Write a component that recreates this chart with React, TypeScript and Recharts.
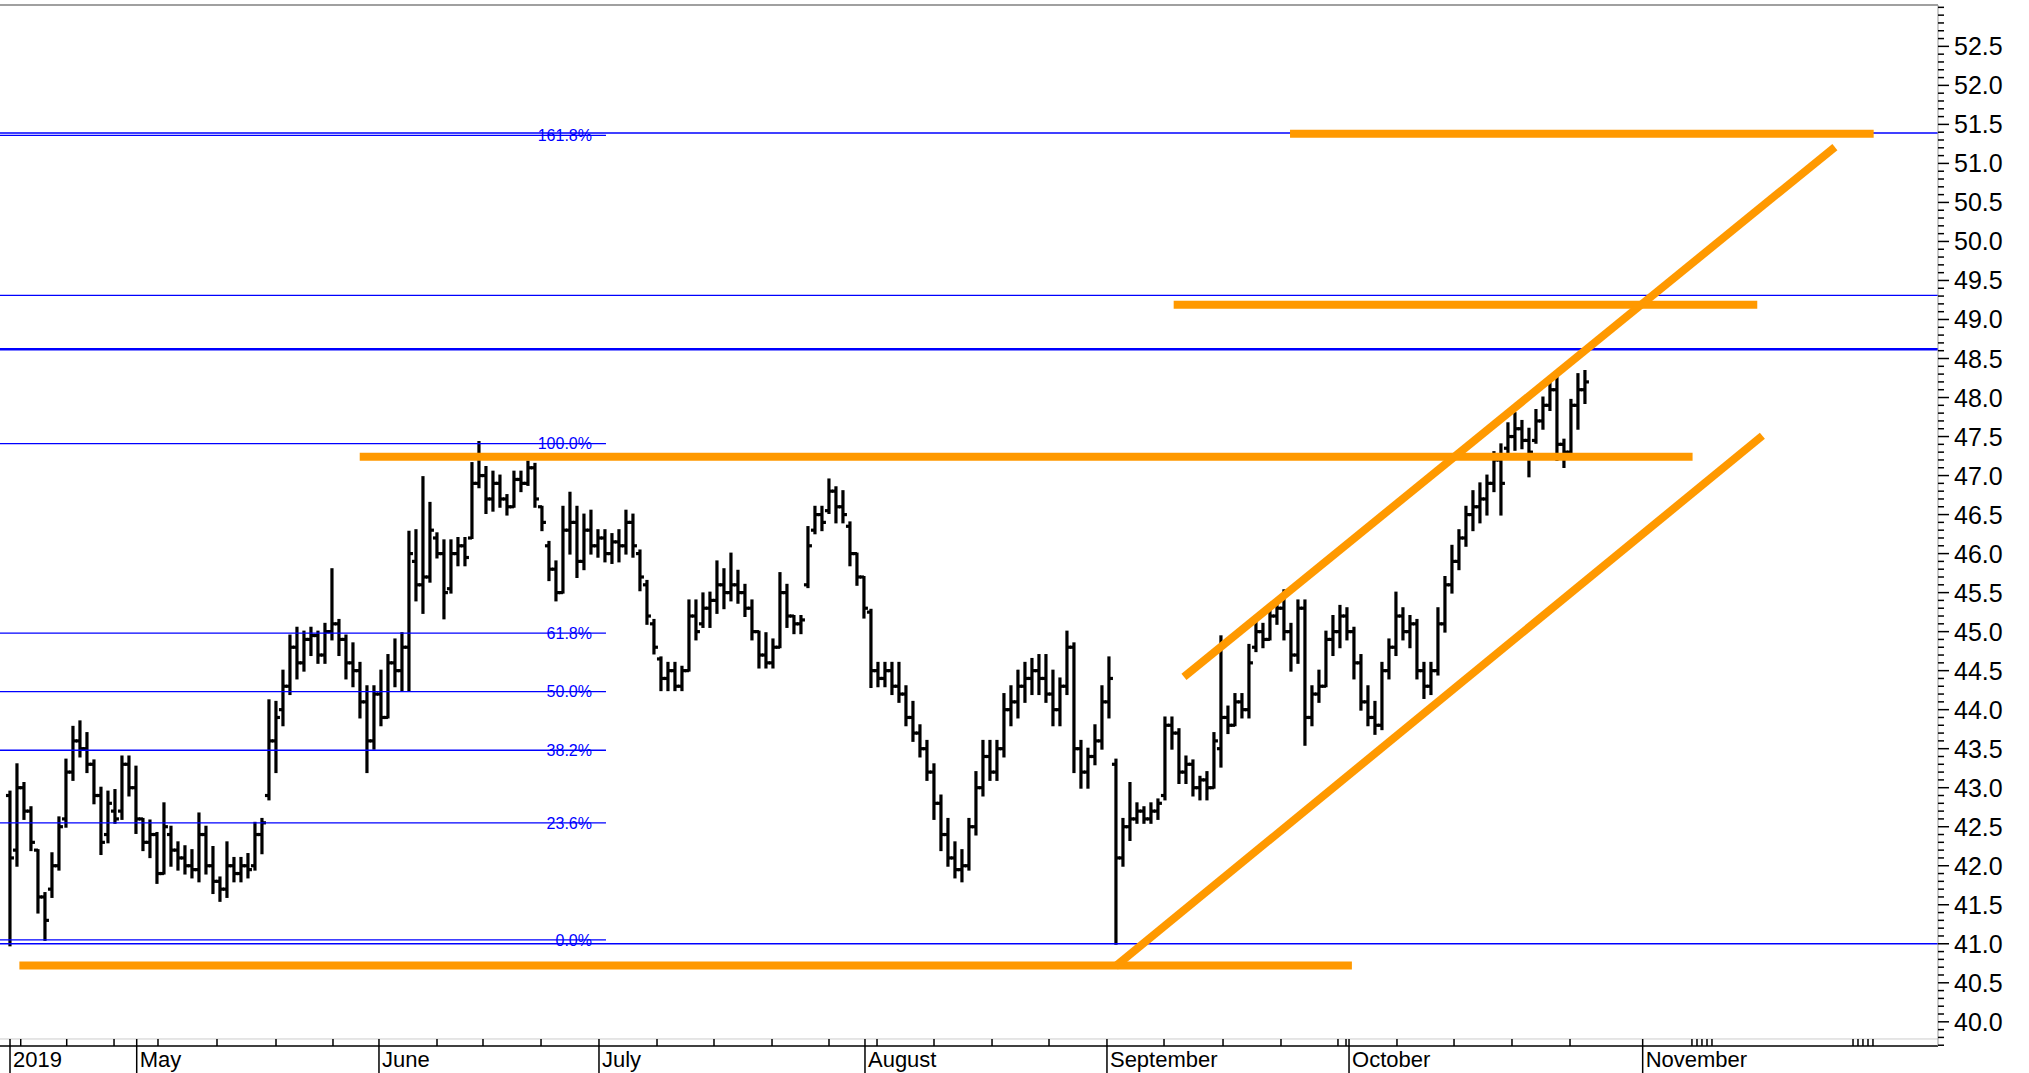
import React from 'react';
import { ComposedChart, Bar, XAxis, YAxis, ReferenceLine, Scatter } from 'recharts';

// ---- OHLC data (one bar per slot) ----
const opens = [
  42.9, 42.2, 43.0, 42.7, 42.2, 41.6, 41.7, 42.0, 42.6, 43.2,
  43.6, 43.5, 43.3, 42.9, 42.4, 42.7, 42.7, 43.3, 43.0, 42.6,
  42.3, 42.4, 41.9, 42.4, 42.2, 42.1, 42.0, 41.95, 42.4, 42.0,
  41.8, 41.7, 42.0, 41.9, 42.0, 42.0, 42.4, 42.9, 43.6, 44.0,
  44.3, 44.8, 44.6, 44.9, 44.95, 44.7, 45.0, 45.1, 44.9, 44.6,
  44.5, 44.1, 43.6, 44.2, 43.9, 44.6, 44.5, 44.8, 45.9, 45.6,
  45.7, 46.2, 46.0, 45.55, 46.0, 46.1, 46.2, 46.9, 47.0, 46.7,
  46.9, 46.7, 46.6, 46.95, 46.9, 47.1, 46.6, 46.1, 45.8, 45.5,
  46.3, 46.4, 45.9, 46.3, 46.1, 46.2, 46.0, 46.15, 46.1, 46.4,
  46.0, 45.6, 45.1, 44.65, 44.4, 44.5, 44.3, 44.5, 45.2, 45.1,
  45.3, 45.4, 45.6, 45.5, 45.6, 45.5, 45.3, 45.0, 44.7, 44.6,
  44.8, 45.5, 45.2, 45.1, 45.6, 46.3, 46.5, 46.55, 46.8, 46.6,
  46.35, 46.0, 45.7, 45.25, 44.5, 44.4, 44.5, 44.3, 44.2, 43.9,
  43.7, 43.5, 43.2, 42.8, 42.4, 42.1, 41.95, 42.0, 42.5, 43.0,
  43.4, 43.2, 43.5, 44.0, 44.1, 44.3, 44.4, 44.5, 44.4, 44.2,
  44.0, 44.3, 44.8, 43.5, 43.2, 43.4, 43.6, 44.1, 43.3, 42.1,
  42.5, 42.6, 42.7, 42.6, 42.7, 42.9, 43.8, 43.7, 43.2, 43.3,
  43.0, 43.1, 43.0, 43.5, 43.9, 43.8, 44.1, 44.0, 44.8, 45.0,
  44.9, 45.2, 45.3, 45.0, 44.7, 45.3, 43.9, 44.2, 44.3, 44.9,
  45.0, 45.2, 45.0, 44.6, 44.1, 43.9, 43.8, 44.5, 44.8, 45.2,
  45.0, 45.1, 44.5, 44.3, 44.5, 45.1, 45.6, 45.9, 46.2, 46.5,
  46.6, 46.7, 46.9, 47.2, 47.35, 47.5, 47.6, 47.45, 47.45, 47.7,
  47.9, 48.1, 47.4, 47.3, 47.9, 48.1,
];
const highs = [
  42.95, 43.3, 43.06, 42.75, 42.2, 41.65, 42.16, 42.62, 43.36, 43.78,
  43.85, 43.7, 43.35, 43.0, 42.95, 42.97, 43.4, 43.4, 43.27, 42.6,
  42.58, 42.42, 42.8, 42.5, 42.3, 42.25, 42.2, 42.67, 42.5, 42.24,
  41.85, 42.3, 42.1, 42.1, 42.15, 42.55, 42.6, 44.12, 44.1, 44.5,
  44.95, 45.05, 45.0, 45.05, 45.0, 45.1, 45.8, 45.15, 44.95, 44.85,
  44.6, 44.3, 44.3, 44.5, 44.7, 44.9, 44.98, 46.28, 46.3, 46.98,
  46.65, 46.26, 46.17, 46.17, 46.2, 46.2, 47.16, 47.43, 47.11, 47.05,
  47.0, 46.75, 47.05, 47.05, 47.18, 47.15, 46.6, 46.15, 45.9, 46.6,
  46.78, 46.6, 46.5, 46.55, 46.3, 46.3, 46.25, 46.3, 46.55, 46.5,
  46.04, 45.65, 45.15, 44.67, 44.6, 44.6, 44.55, 45.4, 45.4, 45.49,
  45.5, 45.9, 45.8, 46.0, 45.78, 45.6, 45.4, 45.0, 44.98, 44.9,
  45.75, 45.6, 45.2, 45.2, 46.34, 46.6, 46.6, 46.95, 46.85, 46.8,
  46.4, 46.0, 45.7, 45.28, 44.6, 44.6, 44.6, 44.6, 44.3, 44.1,
  43.8, 43.6, 43.3, 42.9, 42.6, 42.3, 42.2, 42.6, 43.2, 43.6,
  43.6, 43.6, 44.2, 44.3, 44.5, 44.6, 44.65, 44.7, 44.7, 44.5,
  44.4, 45.0, 44.85, 43.6, 43.5, 43.8, 44.3, 44.67, 43.36, 42.6,
  43.06, 42.8, 42.75, 42.8, 42.85, 43.9, 43.9, 43.75, 43.4, 43.35,
  43.14, 43.2, 43.7, 44.94, 44.04, 44.2, 44.2, 44.83, 45.17, 45.1,
  45.3, 45.35, 45.53, 45.1, 45.4, 45.4, 44.3, 44.5, 45.0, 45.2,
  45.33, 45.3, 45.05, 44.7, 44.3, 44.1, 44.6, 44.9, 45.5, 45.3,
  45.2, 45.15, 44.6, 44.6, 45.3, 45.7, 46.1, 46.3, 46.6, 46.8,
  46.9, 47.0, 47.3, 47.4, 47.67, 47.8, 47.7, 47.6, 47.84, 48.0,
  48.19, 48.27, 47.46, 47.97, 48.3, 48.34,
];
const lows = [
  40.98, 42.0, 42.6, 42.2, 41.4, 41.05, 41.6, 41.95, 42.5, 43.1,
  43.4, 43.2, 42.8, 42.15, 42.3, 42.55, 42.6, 42.9, 42.42, 42.2,
  42.11, 41.78, 41.9, 42.0, 41.95, 41.9, 41.85, 41.8, 41.9, 41.65,
  41.55, 41.6, 41.8, 41.8, 41.85, 41.95, 42.16, 42.85, 43.2, 43.8,
  44.2, 44.4, 44.5, 44.7, 44.6, 44.6, 44.9, 44.7, 44.4, 44.3,
  43.9, 43.2, 43.5, 43.8, 43.9, 44.3, 44.25, 44.25, 45.4, 45.24,
  45.64, 45.95, 45.17, 45.5, 45.85, 45.85, 46.2, 46.85, 46.52, 46.55,
  46.6, 46.5, 46.6, 46.8, 46.88, 46.6, 46.3, 45.66, 45.4, 45.5,
  46.0, 45.7, 45.8, 46.0, 45.96, 45.9, 45.88, 45.9, 46.0, 45.96,
  45.53, 45.1, 44.72, 44.25, 44.25, 44.25, 44.25, 44.5, 44.9, 45.06,
  45.06, 45.24, 45.3, 45.4, 45.37, 45.2, 44.9, 44.54, 44.54, 44.54,
  44.8, 45.06, 44.98, 44.98, 45.57, 46.26, 46.3, 46.52, 46.4, 46.4,
  45.85, 45.6, 45.18, 44.29, 44.3, 44.3, 44.2, 44.1, 43.8, 43.6,
  43.4, 43.1, 42.6, 42.2, 42.0, 41.85, 41.8, 41.95, 42.4, 42.9,
  43.1, 43.1, 43.4, 43.8, 43.9, 44.1, 44.2, 44.2, 44.1, 43.8,
  43.8, 44.2, 43.2, 43.0, 43.0, 43.3, 43.5, 43.9, 41.0, 42.0,
  42.33, 42.55, 42.55, 42.55, 42.6, 42.85, 43.5, 43.06, 43.06, 42.9,
  42.85, 42.85, 43.0, 43.27, 43.7, 43.8, 43.9, 43.9, 44.75, 44.8,
  44.9, 45.1, 44.9, 44.5, 44.6, 43.55, 43.8, 44.1, 44.3, 44.7,
  44.8, 44.9, 44.4, 44.0, 43.8, 43.69, 43.75, 44.4, 44.7, 44.9,
  44.8, 44.4, 44.15, 44.2, 44.45, 45.0, 45.5, 45.8, 46.1, 46.3,
  46.4, 46.5, 46.8, 46.5, 47.3, 47.33, 47.35, 46.99, 47.42, 47.6,
  47.84, 47.2, 47.11, 47.25, 47.6, 47.93,
];
const closes = [
  42.1, 43.0, 42.7, 42.3, 41.6, 41.3, 42.0, 42.5, 43.2, 43.6,
  43.5, 43.3, 42.9, 42.3, 42.8, 42.6, 43.3, 43.0, 42.6, 42.3,
  42.4, 41.9, 42.5, 42.2, 42.1, 42.0, 41.95, 42.4, 42.0, 41.8,
  41.7, 42.0, 41.9, 42.0, 41.95, 42.4, 42.55, 43.6, 43.9, 44.3,
  44.8, 44.6, 44.9, 44.95, 44.7, 45.0, 45.1, 44.9, 44.6, 44.5,
  44.1, 43.6, 44.2, 43.9, 44.6, 44.5, 44.8, 46.0, 45.6, 45.7,
  46.3, 46.0, 45.5, 46.0, 46.1, 45.95, 46.9, 47.0, 46.7, 46.9,
  46.7, 46.6, 46.95, 46.9, 47.1, 46.7, 46.4, 45.8, 45.5, 46.3,
  46.4, 45.9, 46.3, 46.1, 46.2, 46.0, 46.15, 46.1, 46.4, 46.1,
  45.7, 45.2, 44.8, 44.4, 44.5, 44.3, 44.5, 45.2, 45.0, 45.3,
  45.4, 45.6, 45.5, 45.6, 45.5, 45.3, 45.0, 44.7, 44.6, 44.8,
  45.5, 45.2, 45.1, 45.15, 46.1, 46.5, 46.4, 46.8, 46.6, 46.5,
  46.0, 45.7, 45.3, 44.5, 44.4, 44.5, 44.3, 44.2, 43.9, 43.7,
  43.5, 43.2, 42.8, 42.4, 42.1, 41.95, 42.0, 42.5, 43.0, 43.4,
  43.2, 43.5, 44.0, 44.1, 44.3, 44.4, 44.5, 44.4, 44.2, 44.0,
  44.3, 44.8, 43.5, 43.2, 43.4, 43.6, 44.1, 44.4, 42.1, 42.5,
  42.6, 42.7, 42.6, 42.7, 42.8, 43.8, 43.7, 43.2, 43.3, 43.0,
  43.1, 43.0, 43.6, 43.9, 43.8, 44.1, 44.0, 44.6, 45.0, 44.9,
  45.2, 45.3, 45.0, 44.7, 45.3, 43.9, 44.2, 44.3, 44.9, 45.0,
  45.2, 45.0, 44.6, 44.1, 43.9, 43.8, 44.5, 44.8, 45.2, 45.0,
  45.1, 44.5, 44.3, 44.5, 45.1, 45.6, 45.9, 46.2, 46.5, 46.6,
  46.7, 46.9, 47.2, 46.9, 47.5, 47.6, 47.45, 47.3, 47.7, 47.9,
  48.1, 47.4, 47.3, 47.9, 48.1, 48.2,
];

// ---- time axis (slot units) ----
const monthTicks = [0, 18.1, 52.71, 84.14, 122.14, 156.71, 191.29, 233.24];
const monthLabels = ['2019', 'May', 'June', 'July', 'August', 'September', 'October', 'November'];
const weekTicks = [
  1.53, 8.1, 14.86, 21.14, 29.57, 38.0, 46.14, 61.0, 67.57, 75.86, 92.43, 100.57,
  108.86, 117.0, 123.86, 132.0, 140.29, 148.43, 164.86, 173.29, 181.57, 189.71,
  190.86, 198.14, 206.29, 214.57, 222.86, 240.28, 241.0, 241.71, 242.43, 243.14,
  263.29, 264.0, 264.71, 265.43, 266.14,
];
const xDomain = [-1.43, 275.43];

// ---- price axis ----
const yMajorLabels = [
  40.0, 40.5, 41.0, 41.5, 42.0, 42.5, 43.0, 43.5, 44.0, 44.5, 45.0, 45.5, 46.0,
  46.5, 47.0, 47.5, 48.0, 48.5, 49.0, 49.5, 50.0, 50.5, 51.0, 51.5, 52.0, 52.5,
];
const yDomain = [39.69, 53.03];

// ---- Fibonacci retracement ----
const fibLevels = [41.05, 42.55, 43.48, 44.23, 44.98, 47.41, 51.36];
const fibLabels = ['0.0%', '23.6%', '38.2%', '50.0%', '61.8%', '100.0%', '161.8%'];
const fibStart = -1.43;
const fibEnd = 85.14;

// ---- full-width horizontal levels ----
const longLevels = [51.39, 49.31, 48.62, 41.0];

// ---- hand-drawn orange trend lines (slot, price) ----
const orangeX1 = [1.34, 49.96, 166.24, 182.86, 167.71, 157.91];
const orangeY1 = [40.72, 47.24, 49.19, 51.38, 44.42, 40.71];
const orangeX2 = [191.7, 240.37, 249.61, 266.24, 260.7, 250.34];
const orangeY2 = [40.72, 47.24, 49.19, 51.38, 51.21, 47.51];

const FONT = "Arial, 'Liberation Sans', Helvetica, sans-serif";

const data = opens.map((o, i) => ({
  i,
  open: o,
  high: highs[i],
  low: lows[i],
  close: closes[i],
  range: [lows[i], highs[i]],
}));

const fibLabelData = fibLevels.map((v, k) => ({ i: fibEnd, y: v, label: fibLabels[k] }));

const yTicks: number[] = [];
for (let k = 397; k <= 530; k++) yTicks.push(k / 10);

const monthMap = new Map<number, string>();
monthTicks.forEach((m, k) => monthMap.set(m, monthLabels[k]));
const xTicks = [...weekTicks, ...monthTicks].sort((a, b) => a - b);

const OhlcShape = (props: any) => {
  const { x, y, width, height, payload } = props;
  if (x == null || y == null || !payload) return null;
  const cx = x + width / 2;
  const top = Math.min(y, y + height);
  const h = Math.abs(height);
  const span = payload.high - payload.low || 1;
  const yo = top + ((payload.high - payload.open) / span) * h;
  const yc = top + ((payload.high - payload.close) / span) * h;
  return (
    <g stroke="#000" strokeWidth={3.2}>
      <line x1={cx} x2={cx} y1={top - 1} y2={top + h + 1} />
      <line x1={cx - 4} x2={cx} y1={yo} y2={yo} />
      <line x1={cx} x2={cx + 4} y1={yc} y2={yc} />
    </g>
  );
};

const XTick = (props: any) => {
  const { x, y, payload } = props;
  const label = monthMap.get(payload.value);
  if (label !== undefined) {
    return (
      <g>
        <line x1={x} x2={x} y1={y - 7} y2={y + 27} stroke="#000" strokeWidth={1.5} />
        <text x={x + 3} y={y + 21} fontSize={22} fontFamily={FONT} fill="#000">
          {label}
        </text>
      </g>
    );
  }
  return <line x1={x} x2={x} y1={y - 7} y2={y} stroke="#000" strokeWidth={1.5} />;
};

const YTick = (props: any) => {
  const { x, y, payload } = props;
  const v = payload.value;
  const major = yMajorLabels.some((m) => Math.abs(m - v) < 1e-6);
  return (
    <g>
      <line x1={x} x2={x + (major ? 11 : 6)} y1={y} y2={y} stroke="#000" strokeWidth={1.5} />
      {major && (
        <text x={x + 16} y={y} dy="0.36em" fontSize={25} fontFamily={FONT} fill="#000">
          {v.toFixed(1)}
        </text>
      )}
    </g>
  );
};

const FibLabel = (props: any) => {
  const { cx, cy, payload } = props;
  if (cx == null) return null;
  return (
    <text x={cx - 14} y={cy} dy="0.36em" textAnchor="end" fontSize={16} fontFamily={FONT} fill="#0000FF">
      {payload.label}
    </text>
  );
};

export default function App() {
  return (
    <div style={{ position: 'absolute', left: 0, top: 0, width: 2029, height: 1073, background: '#fff' }}>
      <ComposedChart width={2029} height={1073} data={data} margin={{ top: 5, right: 0, bottom: 0, left: 0 }}>
        <XAxis
          type="number"
          dataKey="i"
          domain={xDomain}
          allowDataOverflow
          ticks={xTicks}
          interval={0}
          tick={<XTick />}
          tickLine={false}
          tickSize={0}
          tickMargin={0}
          height={27}
          axisLine={{ stroke: '#000', strokeWidth: 1.5 }}
        />
        <YAxis
          orientation="right"
          type="number"
          domain={yDomain}
          allowDataOverflow
          ticks={yTicks}
          interval={0}
          tick={<YTick />}
          tickLine={false}
          tickSize={0}
          tickMargin={0}
          width={91}
          axisLine={{ stroke: '#999', strokeWidth: 1 }}
        />
        <ReferenceLine y={yDomain[1]} stroke="#808080" strokeWidth={1.5} ifOverflow="visible" />
        <ReferenceLine y={39.78} stroke="#cccccc" strokeWidth={1} ifOverflow="visible" />
        {longLevels.map((v, k) => (
          <ReferenceLine key={'l' + k} y={v} stroke="#0000FF" strokeWidth={k === 2 ? 2.5 : 1.3} ifOverflow="visible" />
        ))}
        {fibLevels.map((v, k) => (
          <ReferenceLine
            key={'f' + k}
            segment={[
              { x: fibStart, y: v },
              { x: fibEnd, y: v },
            ]}
            stroke="#0000FF"
            strokeWidth={1.3}
            ifOverflow="visible"
          />
        ))}
        {orangeX1.map((x1, k) => (
          <ReferenceLine
            key={'o' + k}
            segment={[
              { x: x1, y: orangeY1[k] },
              { x: orangeX2[k], y: orangeY2[k] },
            ]}
            stroke="#FF9900"
            strokeWidth={8}
            ifOverflow="visible"
          />
        ))}
        <Bar dataKey="range" barSize={4} shape={<OhlcShape />} isAnimationActive={false} />
        <Scatter data={fibLabelData} dataKey="y" shape={<FibLabel />} isAnimationActive={false} />
      </ComposedChart>
    </div>
  );
}
